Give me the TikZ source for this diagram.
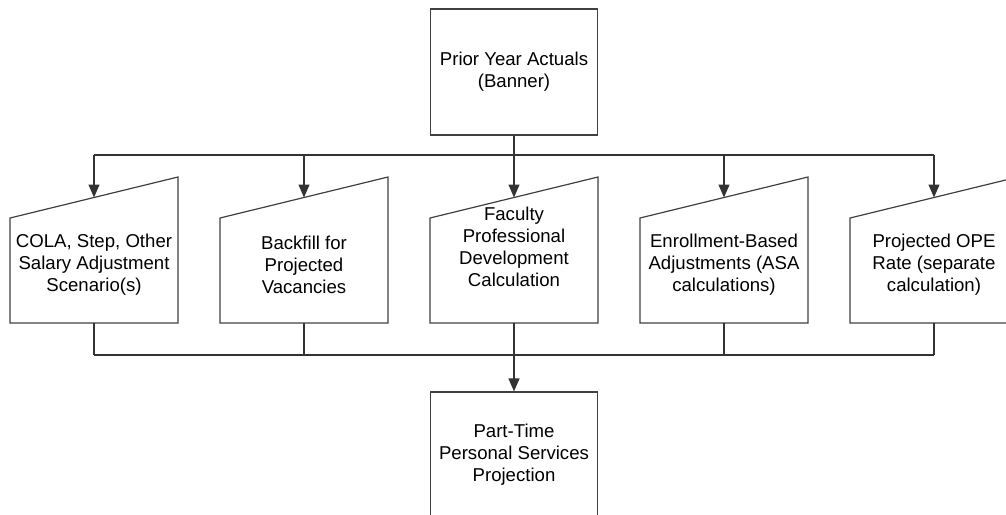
\documentclass[tikz,border=0pt]{standalone}
\usepackage{fontspec}
\setmainfont{Liberation Sans}
\usetikzlibrary{arrows.meta,calc}
\begin{document}
\begin{tikzpicture}[x=1pt,y=-1pt,
  txt/.style={font=\fontsize{18.6}{22}\selectfont, align=center, inner sep=0pt},
  box/.style={txt, draw=black!75, line width=1.2pt, minimum width=167pt, minimum height=126pt},
  outline/.style={draw=black!75, line width=1.2pt, line join=miter},
  conn/.style={draw=black!80, line width=1.2pt},
  arr/.style={conn, -{Triangle[width=11pt,length=13pt]}}]
\useasboundingbox (0,0) rectangle (1006,514);

% top and bottom boxes
\node[box] (prior) at (514,72) {Prior Year Actuals\\(Banner)};
\node[box] (pt) at (514,455) {Part-Time\\Personal Services\\Projection};

% manual input shapes
\foreach \cx/\nm/\ty/\tx in {
  94/cola/265/{COLA, Step, Other\\Salary Adjustment\\Scenario(s)},
  304/back/265/{Backfill for\\Projected\\Vacancies},
  514/fac/247/{Faculty\\Professional\\Development\\Calculation},
  724/enr/265/{Enrollment-Based\\Adjustments (ASA\\calculations)},
  934/ope/265/{Projected OPE\\Rate (separate\\calculation)}} {
  \draw[outline] (\cx-84,323) -- (\cx+84,323) -- (\cx+84,177) -- (\cx-84,218) -- cycle;
  \node[txt] (\nm) at (\cx,\ty) {\tx};
  \coordinate (\nm-in) at (\cx,197.5);
  \coordinate (\nm-out) at (\cx,323);
  \coordinate (\nm-top) at (\cx,155);
  \coordinate (\nm-bot) at (\cx,355);
}

% distribution from top box
\draw[conn] (prior.south) -- (fac-top);
\draw[conn] (cola-top) -- (ope-top);
\foreach \nm in {cola,back,fac,enr,ope} {
  \draw[arr] (\nm-top) -- (\nm-in);
  \draw[conn] (\nm-out) -- (\nm-bot);
}

% collection to bottom box
\draw[conn] (cola-bot) -- (ope-bot);
\draw[arr] (fac-bot) -- (pt.north);
\end{tikzpicture}
\end{document}
